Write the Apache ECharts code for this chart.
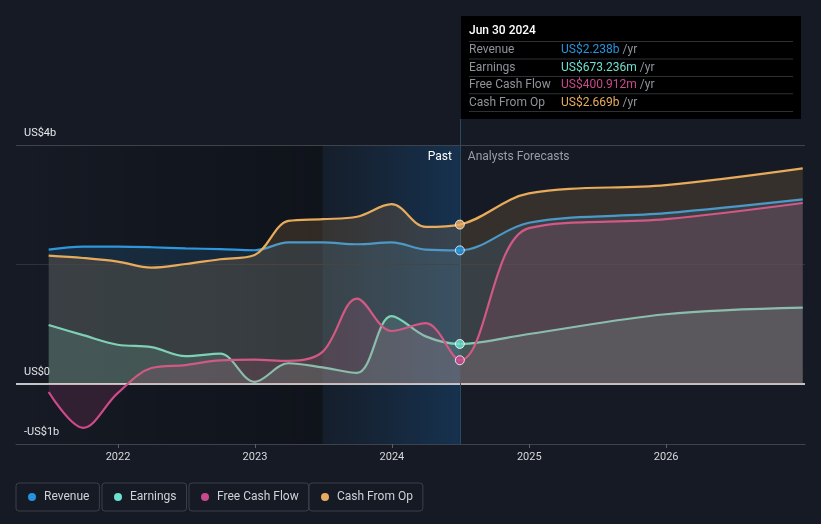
<!DOCTYPE html>
<html><head><meta charset="utf-8">
<script src="https://cdn.jsdelivr.net/npm/echarts@6/dist/echarts.min.js"></script>
<style>html,body{margin:0;padding:0;background:#151a24;} #c{width:821px;height:524px;}</style>
</head><body><div id="c"></div>
<script>
// ---- data (values in US$ billions) ----
const dates = ['2021-06-30','2021-09-30','2021-12-31','2022-03-31','2022-06-30','2022-09-30','2022-12-31','2023-03-31','2023-06-30','2023-09-30','2023-12-31','2024-03-31','2024-06-30','2024-12-31','2025-12-31','2026-12-31'];
const revenue  = [2.25, 2.30, 2.30, 2.29, 2.27, 2.26, 2.24, 2.37, 2.37, 2.34, 2.37, 2.25, 2.238, 2.70, 2.86, 3.09];
const earnings = [0.99, 0.82, 0.66, 0.62, 0.47, 0.51, 0.04, 0.35, 0.28, 0.19, 1.14, 0.80, 0.673, 0.84, 1.17, 1.28];
const fcf      = [-0.13,-0.73,-0.15, 0.27, 0.32, 0.40, 0.41, 0.39, 0.54, 1.43, 0.89, 1.02, 0.401, 2.61, 2.76, 3.03];
const cfo      = [2.15, 2.11, 2.05, 1.95, 2.01, 2.09, 2.16, 2.73, 2.76, 2.80, 3.01, 2.63, 2.669, 3.19, 3.33, 3.61];
const seriesNames = ['Revenue','Earnings','Free Cash Flow','Cash From Op'];
const yLabelTicks = [-1, 0, 4];
const yGridLines = [4, 2];
const xYearTicks = ['2022-01-01','2023-01-01','2024-01-01','2025-01-01','2026-01-01'];
const xRange = ['2021-04-04','2027-01-06'];
const pastStart = '2023-06-30';
const pastEnd = '2024-06-30';
const tipTitle = 'Jun 30 2024';
const tipValues = ['US$2.238b','US$673.236m','US$400.912m','US$2.669b'];

// ---- styles ----
const colors = ['#2f96dc','#6cd9c5','#cf4a8b','#e8ab5b'];
const dotColors = ['#2394df','#6ee0cf','#c94a8c','#e8ac5e'];
const FONT = 'Roboto, "Open Sans", sans-serif';
const allValues = [revenue, earnings, fcf, cfo];
const P = s => echarts.time.parse(s).getTime();

function fmtY(v){ if (v === 0) return 'US$0'; return (v < 0 ? '-' : '') + 'US$' + Math.abs(v) + 'b'; }

const lineSeries = seriesNames.map((name, i) => ({
  name, type: 'line', smooth: 0.35, showSymbol: false, symbol: 'none', z: 3 + i,
  data: dates.map((d, k) => [P(d), allValues[i][k]]),
  lineStyle: { color: colors[i], width: 2.2 },
  itemStyle: { color: dotColors[i] },
  areaStyle: { color: colors[i], opacity: 0.16 },
  emphasis: { disabled: true }
}));

const pastIdx = dates.indexOf(pastEnd);
const dotSeries = {
  type: 'scatter', z: 10, symbolSize: 9, silent: true,
  data: allValues.map((arr, i) => ({ value: [P(dates[pastIdx]), arr[pastIdx]], itemStyle: { color: dotColors[i], borderColor: '#ffffff', borderWidth: 1 } }))
};

const bgSeries = {
  type: 'line', data: [], z: 1, silent: true,
  markArea: {
    silent: true,
    data: [
      [{ xAxis: P(xRange[0]), yAxis: -1, itemStyle: { color: { type: 'linear', x: 0, y: 0, x2: 1, y2: 0, colorStops: [{ offset: 0, color: 'rgba(0,0,0,0)' }, { offset: 1, color: 'rgba(0,0,0,0.28)' }] } } }, { xAxis: P(pastStart), yAxis: 4 }],
      [{ xAxis: P(pastStart), yAxis: -1, name: 'Past',
         label: { show: true, position: 'insideTopRight', distance: 5, offset: [-3, 1], color: '#ffffff', fontSize: 12, fontFamily: FONT },
         itemStyle: { color: { type: 'linear', x: 0, y: 0, x2: 1, y2: 0, colorStops: [{ offset: 0, color: 'rgba(25,90,150,0.06)' }, { offset: 1, color: 'rgba(25,100,170,0.32)' }] } } }, { xAxis: P(pastEnd), yAxis: 4 }],
      [{ xAxis: P(pastEnd), yAxis: -1, name: 'Analysts Forecasts',
         label: { show: true, position: 'insideTopLeft', distance: 5, offset: [3, 1], color: '#9a9ea6', fontSize: 12, fontFamily: FONT },
         itemStyle: { color: 'rgba(0,0,0,0)' } }, { xAxis: P(xRange[1]), yAxis: 4 }]
    ]
  },
  markLine: {
    silent: true, symbol: 'none', label: { show: false },
    data: [
      { yAxis: yGridLines[0], lineStyle: { color: '#3d424c', width: 1.2, type: 'solid' } },
      { yAxis: yGridLines[1], lineStyle: { color: '#2c313b', width: 1, type: 'solid' } },
      { yAxis: 0, lineStyle: { color: '#ffffff', width: 1.5, type: 'solid' } },
      { xAxis: P(pastEnd), lineStyle: { color: '#2b4a66', width: 1, type: 'solid' } }
    ]
  }
};

const legends = seriesNames.map((n, i) => ({
  data: [{ name: n, itemStyle: { color: dotColors[i] } }],
  left: [16, 102, 189, 309][i], top: 483,
  icon: 'circle', itemWidth: 8, itemHeight: 8,
  padding: [8, 10, 8, 12], borderColor: '#3a3f49', borderWidth: 1, borderRadius: 3,
  textStyle: { color: '#cfd2d6', fontSize: 12, fontFamily: FONT, padding: [0, 0, 0, 3] },
  selectedMode: false
}));

const tipGraphic = [
  { type: 'rect', left: 461, top: 16, shape: { width: 340, height: 103 }, style: { fill: '#000000' }, silent: true },
  { type: 'text', left: 469, top: 25, style: { text: tipTitle, fill: '#ffffff', font: '500 12px ' + FONT } }
];
[41, 58.5, 76, 93.3, 111].forEach(y => tipGraphic.push({ type: 'rect', left: 469, top: y, shape: { width: 324, height: 1 }, style: { fill: '#2e3036' }, silent: true }));
seriesNames.forEach((n, i) => {
  const y = [44, 61.5, 79, 96.5][i];
  tipGraphic.push({ type: 'text', left: 469, top: y, style: { text: n, fill: '#8f939a', font: '12px ' + FONT } });
  tipGraphic.push({ type: 'text', left: 561, top: y, style: { text: '{v|' + tipValues[i] + '} {u|/yr}', font: '12px ' + FONT,
    rich: { v: { fill: dotColors[i], font: '12px ' + FONT }, u: { fill: '#8f939a', font: '12px ' + FONT } } } });
});

const chart = echarts.init(document.getElementById('c'), null, { renderer: 'canvas' });
chart.setOption({
  backgroundColor: '#151a24',
  animation: false,
  grid: { left: 16, right: 16, top: 145, bottom: 80, containLabel: false },
  xAxis: {
    type: 'value', min: P(xRange[0]), max: P(xRange[1]),
    axisLine: { show: true, onZero: false, lineStyle: { color: '#3d424c', width: 1.2 } },
    axisTick: { show: true, length: 4, lineStyle: { color: '#5a5f68' }, customValues: xYearTicks.map(P) },
    axisLabel: { color: '#d6d8dc', fontSize: 11, fontFamily: FONT, margin: 8, customValues: xYearTicks.map(P),
      formatter: v => String(new Date(v).getFullYear()) },
    splitLine: { show: false }
  },
  yAxis: {
    type: 'value', min: -1, max: 4,
    axisLine: { show: false }, axisTick: { show: false }, splitLine: { show: false },
    axisLabel: { inside: true, margin: 8, color: '#e6e8ea', fontSize: 11, fontFamily: FONT, verticalAlign: 'bottom', padding: [0, 0, 6, 0],
      customValues: yLabelTicks, formatter: fmtY }
  },
  legend: legends,
  series: [bgSeries, ...lineSeries, dotSeries],
  graphic: tipGraphic
});
// extend the "now" divider above the plot up to the info box
const nowPx = chart.convertToPixel({ gridIndex: 0 }, [P(pastEnd), 4]);
chart.setOption({ graphic: tipGraphic.concat([{ type: 'line', shape: { x1: Math.round(nowPx[0]) + 0.5, y1: 119, x2: Math.round(nowPx[0]) + 0.5, y2: nowPx[1] }, style: { stroke: '#2b4a66', lineWidth: 1 }, silent: true }]) });
</script>
</body></html>
